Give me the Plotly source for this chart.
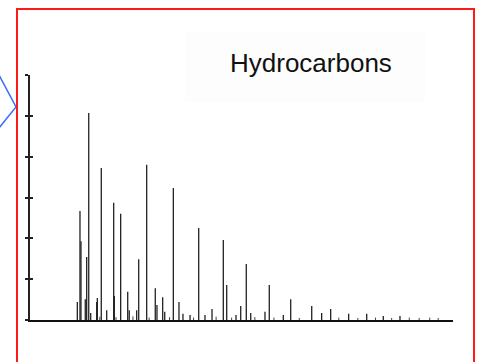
import plotly.graph_objects as go

# Retention time (min) and detector response (relative units) of each peak
retention_min = [6.71, 7.09, 7.23, 7.84, 8.04, 8.33, 8.61, 9.46, 9.55, 10.11,
                 10.88, 11.87, 11.96, 12.86, 13.86, 14.08, 15.13, 15.42, 16.55, 17.77,
                 18.01, 18.82, 19.11, 20.33, 21.13, 21.70, 22.70, 23.93, 24.82, 25.82,
                 27.42, 27.90, 29.22, 29.89, 30.68, 31.31, 33.33, 33.94, 35.93, 36.98,
                 39.96, 41.37, 42.65, 45.20, 47.76, 50.11, 52.48]
response = [4.4, 26.7, 19.3, 5.1, 15.4, 50.7, 1.7, 4.4, 5.4, 37.2,
            2.4, 28.7, 5.9, 26.0, 6.9, 2.4, 2.4, 14.9, 38.0, 7.8,
            3.7, 5.6, 2.0, 32.3, 4.4, 1.5, 1.2, 22.5, 1.2, 2.7,
            19.6, 8.6, 1.2, 3.4, 13.7, 1.7, 2.0, 8.6, 1.2, 5.1,
            3.4, 1.7, 2.7, 1.5, 1.5, 1.0, 1.0]

# Small baseline ripples
noise_min = [9.9, 12.2, 14.6, 16.9, 19.8, 23.2, 26.4, 28.6, 31.9, 34.6, 38.2,
             43.8, 46.5, 49.0, 51.3, 53.8, 55.2, 56.7, 57.9]
noise_resp = [0.8, 0.7, 0.9, 0.6, 0.7, 0.6, 0.8, 0.6, 0.7, 0.6, 0.5,
              0.6, 0.5, 0.6, 0.5, 0.6, 0.5, 0.6, 0.5]

y_ticks = [0, 10, 20, 30, 40, 50, 60]
title_text = "Hydrocarbons"

W, H = 481, 362


def px_x(p):
    return p / W


def px_y(p):
    return 1 - p / H


def stems(xs, ys):
    sx, sy = [], []
    for x, y in zip(xs, ys):
        sx += [x, x, None]
        sy += [0, y, None]
    return sx, sy


fig = go.Figure()
nx, ny = stems(noise_min, noise_resp)
fig.add_trace(go.Scatter(x=nx, y=ny, mode="lines",
                         line=dict(color="#444444", width=1), hoverinfo="skip"))
sx, sy = stems(retention_min, response)
fig.add_trace(go.Scatter(x=sx, y=sy, mode="lines",
                         line=dict(color="#222222", width=1.3), hoverinfo="skip"))
# invisible trace on the twin axis so its inner ticks are drawn
fig.add_trace(go.Scatter(x=[0], y=[0], yaxis="y2", mode="markers",
                         marker=dict(opacity=0), hoverinfo="skip"))

ydom = [px_y(320), px_y(75)]
fig.update_layout(
    width=W, height=H,
    margin=dict(l=0, r=0, t=0, b=0),
    paper_bgcolor="white", plot_bgcolor="white",
    showlegend=False,
    xaxis=dict(domain=[px_x(30), px_x(453)], range=[0, 60], showgrid=False,
               zeroline=False, showline=True, linecolor="#111111", linewidth=2.2,
               ticks="", showticklabels=False),
    yaxis=dict(domain=ydom, range=[0, 60], showgrid=False,
               zeroline=False, showline=True, linecolor="#222222", linewidth=1.5,
               tickvals=y_ticks, ticks="outside", ticklen=3, tickwidth=1.5,
               tickcolor="#222222", showticklabels=False),
    yaxis2=dict(domain=ydom, range=[0, 60], overlaying="y", side="left",
                showgrid=False, zeroline=False, showline=False,
                tickvals=y_ticks, ticks="inside", ticklen=3, tickwidth=1.5,
                tickcolor="#222222", showticklabels=False),
    shapes=[
        # faint label box
        dict(type="rect", xref="paper", yref="paper",
             x0=px_x(185), x1=px_x(425), y0=px_y(102), y1=px_y(32),
             fillcolor="#fdfdfd", line=dict(width=0), layer="below"),
        # red frame
        dict(type="rect", xref="paper", yref="paper",
             x0=px_x(17), x1=px_x(474), y0=px_y(380), y1=px_y(9),
             line=dict(color="#ff1a1a", width=2), fillcolor="rgba(0,0,0,0)"),
        # blue callout
        dict(type="path", xref="paper", yref="paper",
             path=f"M {px_x(-1)},{px_y(75)} L {px_x(16)},{px_y(107)} L {px_x(-1)},{px_y(128)}",
             line=dict(color="#3d6ef5", width=1.5)),
    ],
    annotations=[dict(text=title_text, xref="paper", yref="paper",
                      x=px_x(311), y=px_y(63), showarrow=False,
                      xanchor="center", yanchor="middle",
                      font=dict(family="Liberation Sans, Arial", size=26, color="#111111"))],
)

fig.write_html("out.html")
